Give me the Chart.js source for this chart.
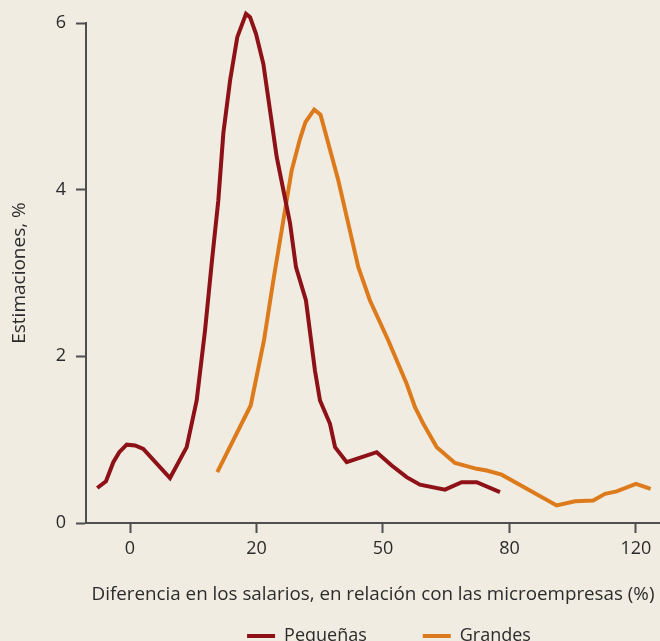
<!DOCTYPE html>
<html>
<head>
<meta charset="utf-8">
<script src="https://cdn.jsdelivr.net/npm/chart.js@4"></script>
<style>
  html, body { margin: 0; padding: 0; background: #f0ece2; overflow: hidden; }
  #wrap { width: 660px; height: 655px; }
</style>
</head>
<body>
<div id="wrap"><canvas id="chart"></canvas></div>
<script>
// x values are positions on the (unevenly labelled) axis: 0 -> "0", 1 -> "20", 2 -> "50", 3 -> "80", 4 -> "120"
const xTickLabels = ['0', '20', '50', '80', '120'];
const yTicks = [0, 2, 4, 6];

const pequenasX = [-0.259, -0.190, -0.132, -0.085, -0.026, 0.040, 0.105, 0.316, 0.448, 0.527,
  0.593, 0.648, 0.698, 0.738, 0.791, 0.848, 0.917, 0.949, 0.996, 1.054,
  1.107, 1.160, 1.265, 1.312, 1.391, 1.462, 1.502, 1.581, 1.621, 1.713,
  1.950, 2.069, 2.187, 2.292, 2.490, 2.622, 2.741, 2.925];
const pequenasY = [0.42, 0.50, 0.73, 0.85, 0.94, 0.93, 0.89, 0.54, 0.91, 1.47,
  2.31, 3.15, 3.87, 4.68, 5.31, 5.83, 6.11, 6.07, 5.87, 5.51,
  4.95, 4.39, 3.60, 3.07, 2.67, 1.83, 1.47, 1.19, 0.91, 0.73,
  0.85, 0.69, 0.55, 0.46, 0.40, 0.49, 0.49, 0.37];

const grandesX = [0.690, 0.954, 1.059, 1.133, 1.212, 1.278, 1.344, 1.387, 1.456, 1.506,
  1.647, 1.726, 1.805, 1.897, 2.042, 2.187, 2.253, 2.319, 2.425, 2.569,
  2.741, 2.820, 2.938, 3.373, 3.518, 3.662, 3.755, 3.847, 4.000, 4.116];
const grandesY = [0.61, 1.41, 2.19, 2.91, 3.63, 4.23, 4.61, 4.81, 4.96, 4.90,
  4.11, 3.59, 3.07, 2.67, 2.19, 1.67, 1.39, 1.19, 0.91, 0.72,
  0.65, 0.63, 0.58, 0.21, 0.26, 0.27, 0.35, 0.38, 0.47, 0.41];

const RED = '#8d1116';
const ORANGE = '#dd7b1c';
const AXIS = '#4f4f4f';
const TEXT = '#2b2b2b';
const FONT = "'Open Sans', sans-serif";

const toPoints = (xs, ys) => xs.map((x, i) => ({ x: x, y: ys[i] }));

// nudge the legend to the right like in the original
const legendShift = {
  id: 'legendShift',
  afterLayout(chart) {
    chart.legend.left += 16;
    chart.legend.right += 16;
  }
};

new Chart(document.getElementById('chart'), {
  type: 'line',
  data: {
    datasets: [
      {
        label: 'Pequeñas',
        data: toPoints(pequenasX, pequenasY),
        borderColor: RED,
        backgroundColor: RED,
        borderWidth: 4,
        pointRadius: 0,
        tension: 0,
        clip: false
      },
      {
        label: 'Grandes',
        data: toPoints(grandesX, grandesY),
        borderColor: ORANGE,
        backgroundColor: ORANGE,
        borderWidth: 4,
        pointRadius: 0,
        tension: 0,
        clip: false
      }
    ]
  },
  options: {
    responsive: true,
    maintainAspectRatio: false,
    animation: false,
    layout: { padding: { top: 23, right: 0, left: 0, bottom: 0 } },
    plugins: {
      tooltip: { enabled: false },
      legend: {
        position: 'bottom',
        fullSize: false,
        labels: {
          color: TEXT,
          font: { family: FONT, size: 18 },
          boxWidth: 28,
          boxHeight: 4,
          padding: 56,
          generateLabels(chart) {
            return chart.data.datasets.map((ds, i) => ({
              text: ds.label,
              fillStyle: ds.borderColor,
              strokeStyle: ds.borderColor,
              lineWidth: 0,
              fontColor: TEXT,
              datasetIndex: i
            }));
          }
        }
      }
    },
    scales: {
      x: {
        type: 'linear',
        min: -0.348,
        max: 4.19,
        afterBuildTicks(scale) {
          scale.ticks = xTickLabels.map((_, i) => ({ value: i }));
        },
        afterFit(scale) { scale.height = 48; },
        ticks: {
          color: TEXT,
          font: { family: FONT, size: 18 },
          padding: 5,
          maxRotation: 0,
          callback: (v) => xTickLabels[v]
        },
        grid: { drawOnChartArea: false, drawTicks: true, tickLength: 10, tickWidth: 2, tickColor: AXIS },
        border: { display: true, color: AXIS, width: 2 },
        title: {
          display: true,
          text: 'Diferencia en los salarios, en relación con las microempresas (%)',
          color: TEXT,
          font: { family: FONT, size: 18.8 },
          padding: { top: 0, bottom: -35 }
        }
      },
      y: {
        min: 0,
        max: 6,
        afterBuildTicks(scale) {
          scale.ticks = yTicks.map(v => ({ value: v }));
        },
        afterFit(scale) { scale.width = 86; },
        ticks: {
          color: TEXT,
          font: { family: FONT, size: 18 },
          padding: 10
        },
        grid: { drawOnChartArea: false, drawTicks: true, tickLength: 10, tickWidth: 2, tickColor: AXIS },
        border: { display: true, color: AXIS, width: 2 },
        title: {
          display: true,
          text: 'Estimaciones, %',
          color: TEXT,
          font: { family: FONT, size: 19 },
          padding: { top: 8, bottom: 0 }
        }
      }
    }
  },
  plugins: [legendShift]
});
</script>
</body>
</html>
